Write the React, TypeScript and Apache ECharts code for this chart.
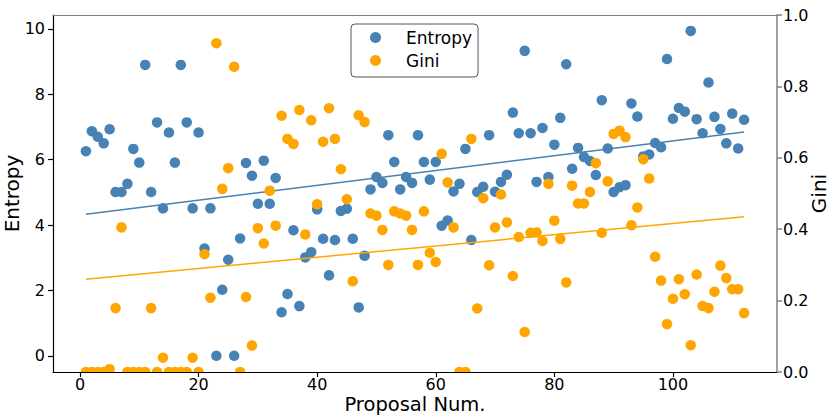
import React, { useEffect, useRef } from "react";
import * as echarts from "echarts";

const entropy = [
  6.26, 6.87, 6.7, 6.5, 6.93, 5.01, 5.01, 5.26, 6.33, 5.91,
  8.9, 5.01, 7.14, 4.51, 6.83, 5.91, 8.9, 7.14, 4.51, 6.83,
  3.28, 4.51, 0, 2.02, 2.94, 0, 3.59, 5.9, 5.51, 4.65,
  5.97, 4.65, 5.44, 1.33, 1.89, 3.84, 1.52, 3.01, 3.17, 4.48,
  3.58, 2.46, 3.54, 4.43, 4.5, 3.58, 1.48, 3.06, 5.09, 5.47,
  5.29, 6.75, 5.93, 5.09, 5.47, 5.29, 6.75, 5.93, 5.39, 5.93,
  3.98, 4.14, 5.03, 5.26, 6.33, 3.54, 5.01, 5.17, 6.75, 5.02,
  5.32, 5.54, 7.44, 6.81, 9.33, 6.81, 5.32, 6.97, 5.47, 6.46,
  7.28, 8.92, 5.72, 6.36, 6.08, 5.96, 5.53, 7.82, 6.34, 5.01,
  5.16, 5.22, 7.72, 7.32, 6.1, 6.16, 6.51, 6.38, 9.08, 7.25,
  7.58, 7.47, 9.94, 7.24, 6.81, 8.36, 7.31, 6.94, 6.5, 7.41,
  6.34, 7.22,
];

const gini = [
  0, 0, 0, 0, 0.008, 0.179, 0.405, 0, 0, 0,
  0, 0.179, 0, 0.04, 0, 0, 0, 0, 0.04, 0,
  0.33, 0.208, 0.921, 0.513, 0.571, 0.855, 0, 0.21, 0.074, 0.403,
  0.36, 0.508, 0.41, 0.718, 0.653, 0.639, 0.734, 0.385, 0.705, 0.47,
  0.645, 0.739, 0.653, 0.568, 0.484, 0.254, 0.719, 0.7, 0.444, 0.438,
  0.398, 0.3, 0.45, 0.444, 0.438, 0.398, 0.3, 0.45, 0.334, 0.308,
  0.611, 0.531, 0.405, 0, 0, 0.653, 0.178, 0.487, 0.299, 0.405,
  0.497, 0.419, 0.269, 0.378, 0.112, 0.39, 0.391, 0.367, 0.527, 0.424,
  0.373, 0.251, 0.522, 0.472, 0.472, 0.504, 0.585, 0.39, 0.534, 0.667,
  0.676, 0.658, 0.411, 0.461, 0.596, 0.542, 0.323, 0.256, 0.134, 0.205,
  0.26, 0.218, 0.075, 0.273, 0.185, 0.179, 0.225, 0.298, 0.263, 0.232,
  0.232, 0.165,
];

// trend line end points (x, value)
const entropyTrendX = [1, 112];
const entropyTrendY = [4.33, 6.85];
const giniTrendX = [1, 112];
const giniTrendY = [0.26, 0.435];

const xTicks = [0, 20, 40, 60, 80, 100];
const entropyTicks = [0, 2, 4, 6, 8, 10];
const giniTicks = [0, 0.2, 0.4, 0.6, 0.8, 1.0];

const BLUE = "#4682b4";
const ORANGE = "#ffa500";
const FONT = "DejaVu Sans";

export default function App() {
  const ref = useRef<HTMLDivElement>(null);
  useEffect(() => {
    if (!ref.current) return;
    const chart = echarts.init(ref.current, null, { renderer: "svg" });
    const entropyData = entropy.map((v, i) => [i + 1, v]);
    const giniData = gini.map((v, i) => [i + 1, v]);
    const eTrend = entropyTrendX.map((x, i) => [x, entropyTrendY[i]]);
    const gTrend = giniTrendX.map((x, i) => [x, giniTrendY[i]]);
    chart.setOption({
      animation: false,
      backgroundColor: "#ffffff",
      textStyle: { fontFamily: FONT },
      grid: {
        left: 53,
        right: 53,
        top: 15,
        bottom: 44,
        containLabel: false,
        outerBoundsMode: "none",
      },
      legend: {
        orient: "vertical",
        left: 351,
        top: 24,
        padding: [5, 6, 8, 19],
        itemWidth: 11,
        itemHeight: 11,
        itemGap: 6,
        borderColor: "#555555",
        borderWidth: 1,
        borderRadius: 4,
        backgroundColor: "#ffffff",
        textStyle: { fontSize: 17, fontFamily: FONT, color: "#000", padding: [0, 0, 0, 20] },
        data: [
          { name: "Entropy", icon: "circle" },
          { name: "Gini", icon: "circle" },
        ],
      },
      graphic: {
        z: 50,
        elements: [
          {
            type: "rect",
            z: 50,
            silent: true,
            shape: { x: 45, y: 372.6, width: 740, height: 8 },
            style: { fill: "#ffffff" },
          },
        ],
      },
      xAxis: [
        {
          type: "value",
          min: -4.55,
          max: 117.55,
          z: 60,
          name: "Proposal Num.",
          nameLocation: "middle",
          nameGap: 23,
          nameMoveOverlap: false,
          nameTextStyle: { fontSize: 19.5, fontFamily: FONT, color: "#000", lineHeight: 19 },
          axisLine: { show: true, onZero: false, lineStyle: { color: "#000", width: 1.2 } },
          axisTick: { show: true, length: 5, inside: false, customValues: xTicks, lineStyle: { color: "#000", width: 1.2 } },
          axisLabel: { customValues: xTicks, fontSize: 16, fontFamily: FONT, color: "#000", margin: 4, lineHeight: 16 },
          splitLine: { show: false },
        },
        {
          type: "value",
          position: "top",
          min: -4.55,
          max: 117.55,
          z: 60,
          axisLine: { show: true, onZero: false, lineStyle: { color: "#808080", width: 1.2 } },
          axisTick: { show: false },
          axisLabel: { show: false },
          splitLine: { show: false },
        },
      ],
      yAxis: [
        {
          type: "value",
          min: -0.4965,
          max: 10.4265,
          position: "left",
          z: 60,
          name: "Entropy",
          nameLocation: "middle",
          nameGap: 31,
          nameMoveOverlap: false,
          nameTextStyle: { fontSize: 20, fontFamily: FONT, color: "#000" },
          axisLine: { show: true, onZero: false, lineStyle: { color: "#000", width: 1.2 } },
          axisTick: { show: true, length: 5, customValues: entropyTicks, lineStyle: { color: "#000", width: 1.2 } },
          axisLabel: { customValues: entropyTicks, fontSize: 16, fontFamily: FONT, color: "#000", margin: 8 },
          splitLine: { show: false },
        },
        {
          type: "value",
          min: 0,
          max: 1,
          interval: 0.2,
          position: "right",
          z: 60,
          name: "Gini",
          nameLocation: "middle",
          nameGap: 32,
          nameRotate: 90,
          nameMoveOverlap: false,
          nameTextStyle: { fontSize: 20, fontFamily: FONT, color: "#000" },
          axisLine: { show: true, onZero: false, lineStyle: { color: "#808080", width: 1.5 } },
          axisTick: { show: true, length: 5, lineStyle: { color: "#808080", width: 1.5 } },
          axisLabel: {
            fontSize: 16,
            fontFamily: FONT,
            color: "#000",
            margin: 6,
            customValues: giniTicks,
            formatter: (v: number) => v.toFixed(1),
          },
          splitLine: { show: false },
        },
      ],
      series: [
        {
          name: "Entropy",
          type: "scatter",
          xAxisIndex: 0,
          yAxisIndex: 0,
          symbol: "circle",
          symbolSize: 10.5,
          itemStyle: { color: BLUE, opacity: 1 },
          data: entropyData,
          z: 2,
        },
        {
          name: "Entropy trend",
          type: "line",
          xAxisIndex: 0,
          yAxisIndex: 0,
          showSymbol: false,
          symbol: "none",
          lineStyle: { color: BLUE, width: 1.5 },
          data: eTrend,
          z: 2,
        },
        {
          name: "Gini",
          type: "scatter",
          xAxisIndex: 0,
          yAxisIndex: 1,
          symbol: "circle",
          symbolSize: 10.5,
          itemStyle: { color: ORANGE, opacity: 1 },
          data: giniData,
          z: 3,
        },
        {
          name: "Gini trend",
          type: "line",
          xAxisIndex: 0,
          yAxisIndex: 1,
          showSymbol: false,
          symbol: "none",
          lineStyle: { color: ORANGE, width: 1.5 },
          data: gTrend,
          z: 3,
        },
      ],
    });
    return () => chart.dispose();
  }, []);
  return (
    <div
      ref={ref}
      style={{ position: "fixed", left: 0, top: 0, width: 830, height: 416, background: "#fff" }}
    />
  );
}
